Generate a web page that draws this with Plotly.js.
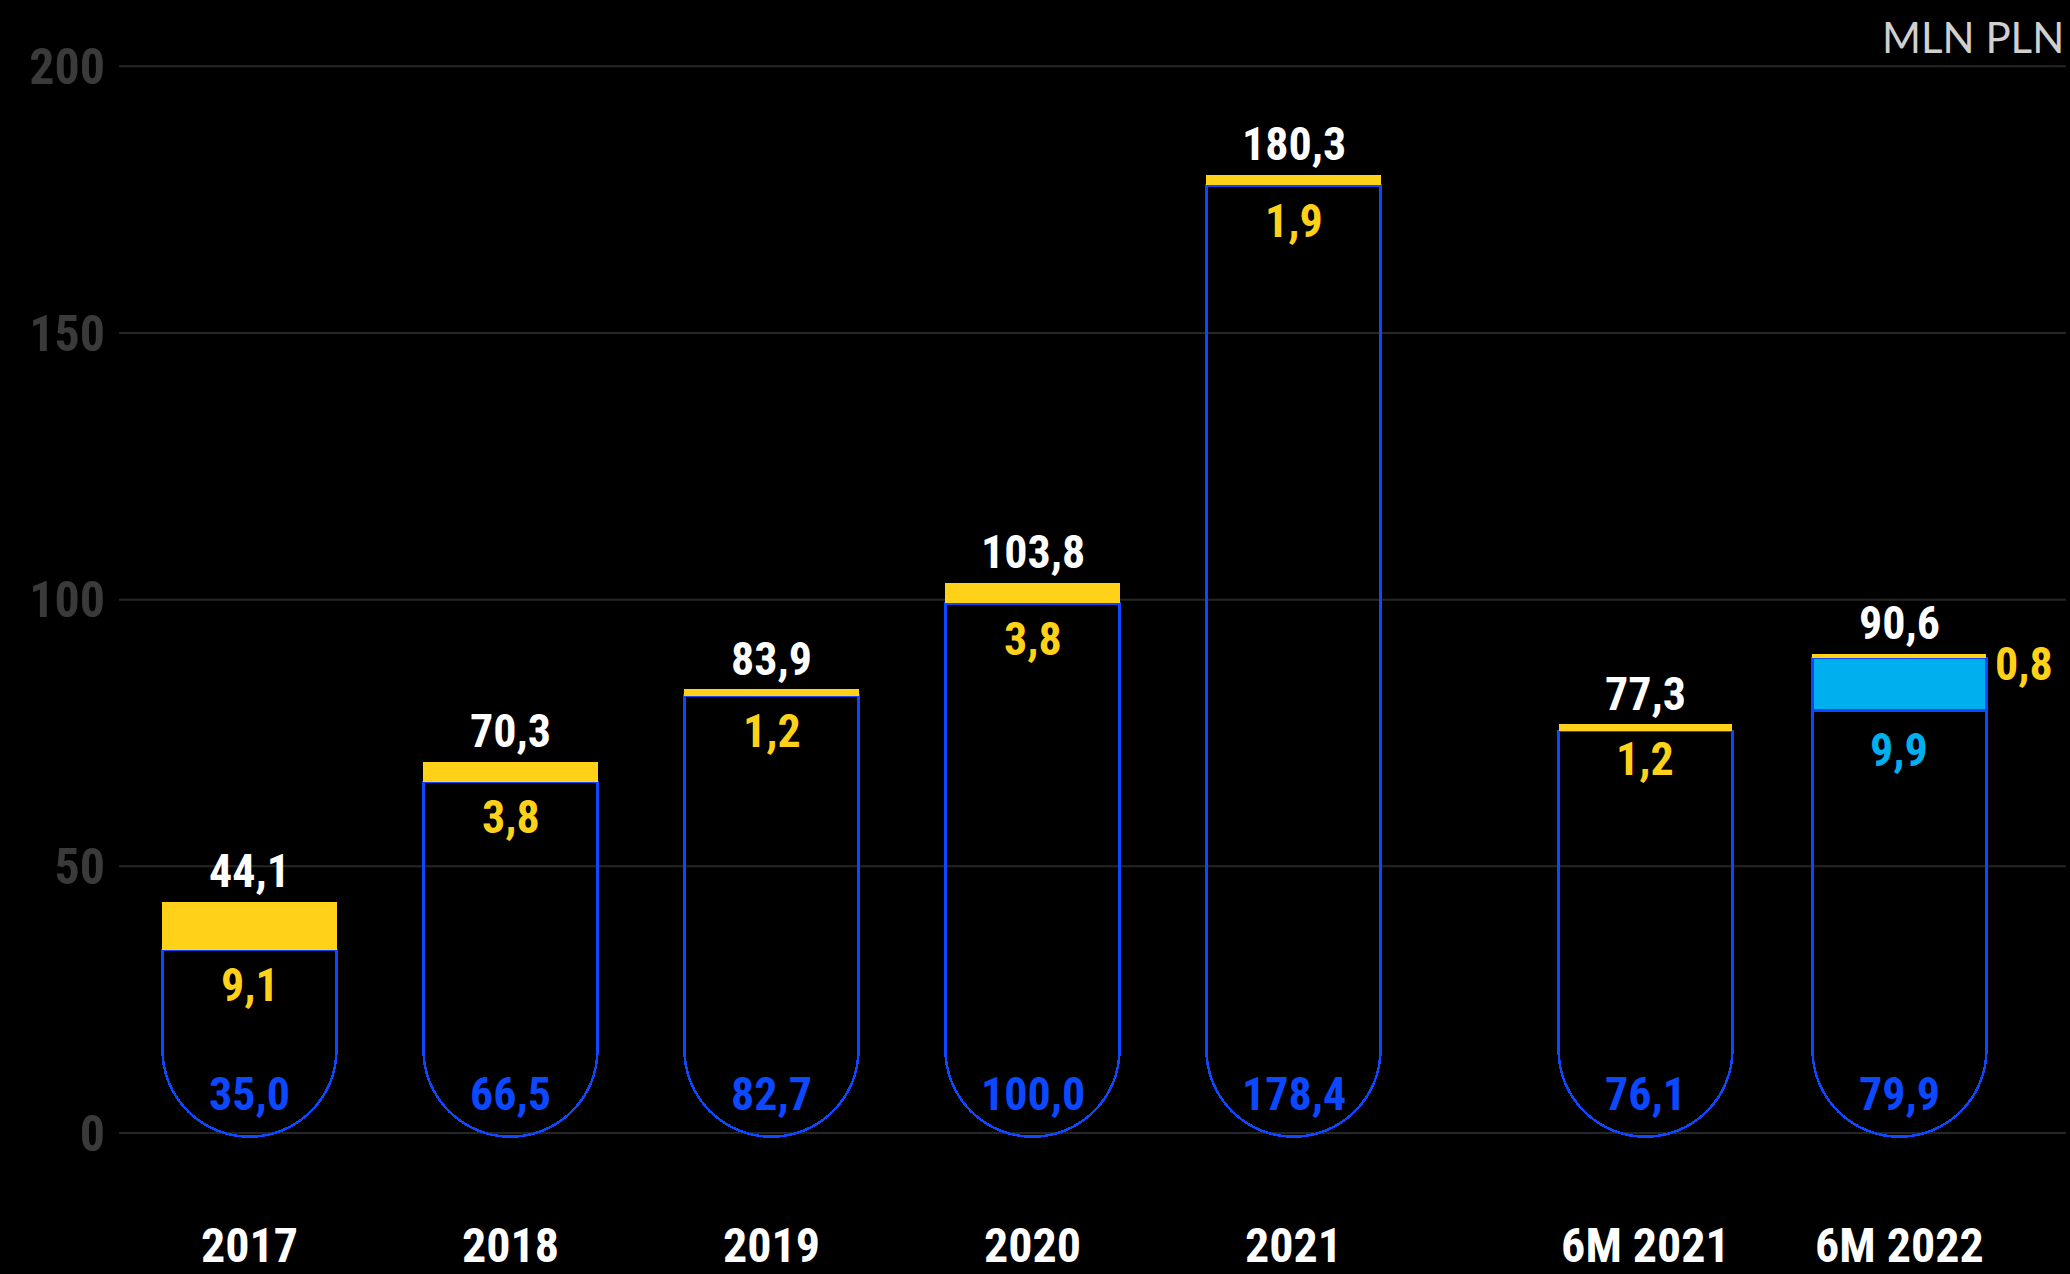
<!DOCTYPE html>
<html>
<head>
<meta charset="utf-8">
<script src="https://cdn.plot.ly/plotly-3.0.1.min.js"></script>
<style>
  html, body { margin: 0; padding: 0; background: #000; }
  #chart { width: 2070px; height: 1274px; }
</style>
</head>
<body>
<div id="chart"></div>
<script>
// ---- data ----
const yearCats   = ["2017", "2018", "2019", "2020", "2021"];
const yearBlue   = [35.0, 66.5, 82.7, 100.0, 178.4];
const yearYellow = [9.1, 3.8, 1.2, 3.8, 1.9];

const halfCats   = ["6M 2021", "6M 2022"];
const halfBlue   = [76.1, 79.9];
const halfCyan   = [0, 9.9];
const halfYellow = [1.2, 0.8];

const yTickVals  = [0, 50, 100, 150, 200];
const unitLabel  = "MLN PLN";

// ---- styles ----
const BLUE = "#0b48ff", YELLOW = "#ffd219", CYAN = "#00b0ee", WHITE = "#ffffff";
const FONT = "Roboto Condensed, Liberation Sans Narrow, DejaVu Sans Condensed, Roboto, sans-serif";
const Y_MIN = -3, Y_MAX = 201, BAR_OFFSET = 0.7;
const fmt = v => v.toFixed(1).replace(".", ",");
const round1 = v => Math.round(v * 10) / 10;

const yearTotal = yearBlue.map((b, i) => round1(b + yearYellow[i]));
const halfTop1  = halfBlue.map((b, i) => round1(b + halfCyan[i]));
const halfTotal = halfTop1.map((b, i) => round1(b + halfYellow[i]));

// Bars are stacked downward from the top of the plot on reversed overlay axes,
// so the blue bar is the outermost one and gets the rounded end at the bottom.
function group(cats, xa, w, blue, cyan, top1, yellow, total) {
  const common = { type: "bar", x: cats, xaxis: xa, width: w, hoverinfo: "skip", showlegend: false };
  const clear = { color: "rgba(0,0,0,0)", line: { width: 0 } };
  const base = [], lower = [], upper = [];
  // empty trace so that the main (x, y) subplot exists for these overlay axes
  base.push({ type: "scatter", mode: "markers", x: [], y: [], xaxis: xa, yaxis: "y",
    hoverinfo: "skip", showlegend: false });
  lower.push(Object.assign({}, common, { yaxis: "y2", y: top1.map(t => Y_MAX - t), marker: clear }));
  if (cyan) lower.push(Object.assign({}, common, { yaxis: "y2", y: cyan,
    marker: { color: CYAN, line: { color: BLUE, width: 2.5 } } }));
  lower.push(Object.assign({}, common, { yaxis: "y2", y: blue,
    marker: { color: "rgba(0,0,0,0)", line: { color: BLUE, width: 2.5 }, cornerradius: "50%" } }));
  upper.push(Object.assign({}, common, { yaxis: "y3", y: total.map(t => Y_MAX - t), marker: clear }));
  upper.push(Object.assign({}, common, { yaxis: "y3", y: yellow, marker: { color: YELLOW, line: { width: 0 } } }));
  return { base: base, lower: lower, upper: upper };
}

const W1 = 0.667, W2 = 0.685;
const g1 = group(yearCats, "x", W1, yearBlue, null, yearBlue, yearYellow, yearTotal);
const g2 = group(halfCats, "x2", W2, halfBlue, halfCyan, halfTop1, halfYellow, halfTotal);
const data = [].concat(g1.base, g2.base, g1.lower, g2.lower, g1.upper, g2.upper);

const labelFont = (c) => ({ family: FONT, size: 46, color: c, weight: 700 });
const ann = [];
function addAnn(xref, x, y, text, color, yanchor, yshift, xanchor, xshift) {
  ann.push({ xref: xref, yref: "y", x: x, y: y, text: text, showarrow: false,
    font: labelFont(color), yanchor: yanchor, yshift: yshift || 0,
    xanchor: xanchor || "center", xshift: xshift || 0 });
}
yearCats.forEach((c, i) => {
  addAnn("x", i, yearTotal[i], fmt(yearTotal[i]), WHITE, "bottom", -2);
  addAnn("x", i, yearBlue[i], fmt(yearYellow[i]), YELLOW, "top", -10);
  addAnn("x", i, 0, fmt(yearBlue[i]), BLUE, "bottom", 10);
});
halfCats.forEach((c, i) => {
  addAnn("x2", i, halfTotal[i], fmt(halfTotal[i]), WHITE, "bottom", -2);
  if (halfCyan[i] > 0) {
    addAnn("x2", i, halfBlue[i], fmt(halfCyan[i]), CYAN, "top", -14);
    addAnn("x2", i, halfTotal[i], fmt(halfYellow[i]), YELLOW, "middle", -14, "left", 94);
  } else {
    addAnn("x2", i, halfBlue[i], fmt(halfYellow[i]), YELLOW, "top", -3);
  }
  addAnn("x2", i, 0, fmt(halfBlue[i]), BLUE, "bottom", 10);
});
ann.push({ xref: "paper", yref: "paper", x: 1, y: 1, xanchor: "right", yanchor: "bottom",
  yshift: -3, xshift: 0, showarrow: false, text: unitLabel,
  font: { family: "Lato, Open Sans, sans-serif", size: 42, color: "#d0d0d0", weight: 400 } });

const shapes = yTickVals.map(v => ({
  type: "line", xref: "paper", x0: 0, x1: 1, yref: "y", y0: v, y1: v,
  line: { color: "#262626", width: 2 }, layer: "below"
}));

const xCommon = {
  type: "category", ticks: "outside", ticklen: 54, tickcolor: "rgba(0,0,0,0)",
  tickfont: { family: FONT, size: 48, color: WHITE, weight: 700 },
  showgrid: false, zeroline: false, showline: false, fixedrange: true, anchor: "y"
};
const hiddenY = {
  overlaying: "y", range: [Y_MAX - Y_MIN - BAR_OFFSET, -BAR_OFFSET], showticklabels: false, ticks: "",
  showgrid: false, zeroline: false, showline: false, fixedrange: true, anchor: "x"
};

const layout = {
  width: 2070, height: 1274,
  paper_bgcolor: "#000", plot_bgcolor: "rgba(0,0,0,0)",
  margin: { l: 119, r: 4, t: 61, b: 125 },
  barmode: "stack",
  showlegend: false,
  xaxis: Object.assign({}, xCommon, { domain: [0, 0.67026], range: [-0.5, 4.5] }),
  xaxis2: Object.assign({}, xCommon, { domain: [0.7188, 0.9797], range: [-0.5, 1.5] }),
  yaxis: {
    range: [Y_MIN, Y_MAX], tickvals: yTickVals, ticktext: yTickVals.map(String),
    ticks: "outside", ticklen: 3, tickcolor: "rgba(0,0,0,0)",
    tickfont: { family: FONT, size: 50, color: "#3a3a3a", weight: 700 },
    showgrid: false, zeroline: false, showline: false, fixedrange: true, anchor: "x"
  },
  yaxis2: Object.assign({}, hiddenY),
  yaxis3: Object.assign({}, hiddenY),
  shapes: shapes,
  annotations: ann
};

Plotly.newPlot("chart", data, layout, { staticPlot: true, displayModeBar: false });
</script>
</body>
</html>
